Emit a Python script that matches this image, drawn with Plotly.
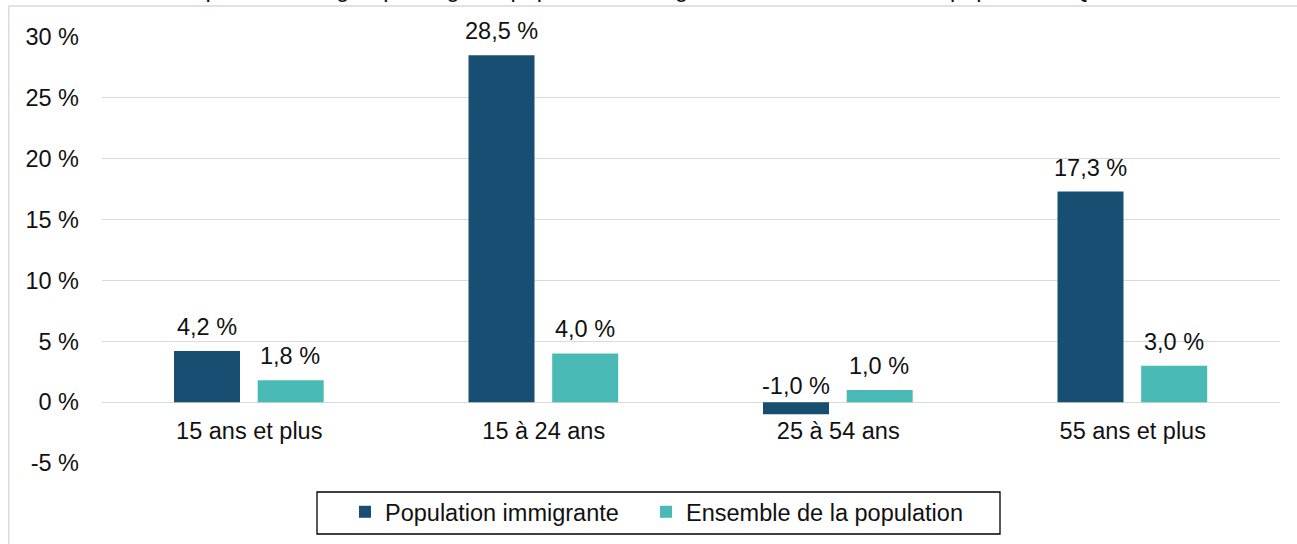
import plotly.graph_objects as go

categories = ["15 ans et plus", "15 à 24 ans", "25 à 54 ans", "55 ans et plus"]
series_names = ["Population immigrante", "Ensemble de la population"]
immigrante = [4.2, 28.5, -1.0, 17.3]
ensemble = [1.8, 4.0, 1.0, 3.0]
y_tickvals = [-5, 0, 5, 10, 15, 20, 25, 30]
y_ticktext = ["-5 %", "0 %", "5 %", "10 %", "15 %", "20 %", "25 %", "30 %"]
title_text = ("Variation de l'emploi selon le groupe d'âge, la population immigrante et "
              "l'ensemble de la population, Québec, 2019-2023")

colors = ["#174E71", "#4ABAB6"]
FONT = "Liberation Sans, Arial, sans-serif"
FS = 23.5

ML, MR, MT, MB = 102, 17, 37, 81
W, H = 1297, 544
PW, PH = W - ML - MR, H - MT - MB
CAT_PX = PW / len(categories)

def px_x(x):
    return (x - ML) / PW

def px_y(y):
    return 1 - (y - MT) / PH

def fmt(v):
    return f"{v:.1f}".replace(".", ",") + " %"

legend_names = ["legend", "legend2"]
legend_left = [345, 646]
bar_w = 66 / CAT_PX
bar_offsets = [-75.25 / CAT_PX, 8.45 / CAT_PX]
label_shift = [-42, 41]

fig = go.Figure()
for name, vals, col, lg, off in zip(series_names, [immigrante, ensemble], colors,
                                    legend_names, bar_offsets):
    fig.add_trace(go.Bar(x=categories, y=vals, name=name, marker_color=col,
                         marker_line_width=0, legend=lg, width=bar_w, offset=off))

annotations = []
for vals, shift in zip([immigrante, ensemble], label_shift):
    for c, v in zip(categories, vals):
        annotations.append(dict(
            x=c, y=max(v, 0), xref="x", yref="y", text=fmt(v), showarrow=False,
            xshift=shift, yanchor="bottom", yshift=(9 if v >= 0 else 1),
            font=dict(family=FONT, size=FS, color="#111111")))

annotations.append(dict(
    x=0.47, y=px_y(4.5), xref="paper", yref="paper", text=title_text, showarrow=False,
    xanchor="center", yanchor="bottom", font=dict(family=FONT, size=FS, color="#111111")))

shapes = [
    dict(type="rect", xref="paper", yref="paper", x0=px_x(8.7), x1=px_x(1310),
         y0=px_y(560), y1=px_y(6), line=dict(color="#D9D9D9", width=1.3),
         fillcolor="rgba(0,0,0,0)", layer="below"),
    dict(type="rect", xref="paper", yref="paper", x0=px_x(317), x1=px_x(1000),
         y0=px_y(534), y1=px_y(492), line=dict(color="#000000", width=1.3),
         fillcolor="rgba(0,0,0,0)", layer="above"),
]

legend_style = dict(orientation="h", xanchor="left", y=px_y(490), yanchor="top",
                    borderwidth=0, bgcolor="rgba(0,0,0,0)",
                    font=dict(family=FONT, size=FS, color="#111111"), itemwidth=30)

fig.update_layout(
    width=W, height=H,
    margin=dict(l=ML, r=MR, t=MT, b=MB, autoexpand=False),
    paper_bgcolor="white", plot_bgcolor="white",
    font=dict(family=FONT, size=FS, color="#111111"),
    barmode="overlay",
    showlegend=True,
    legend=dict(x=px_x(legend_left[0]), **legend_style),
    legend2=dict(x=px_x(legend_left[1]), **legend_style),
    annotations=annotations,
    shapes=shapes,
    xaxis=dict(anchor="free", position=5/35, showgrid=False, showline=False,
               range=[-0.5, len(categories) - 0.5],
               ticks="", tickfont=dict(family=FONT, size=FS, color="#111111"),
               ticklabelstandoff=12, automargin=False),
    yaxis=dict(range=[-5, 30], tickvals=y_tickvals, ticktext=y_ticktext,
               showgrid=True, gridcolor="#D9D9D9", gridwidth=1.3,
               zeroline=True, zerolinecolor="#D9D9D9", zerolinewidth=1.3,
               showline=False, ticks="", ticklabelstandoff=22, automargin=False,
               tickfont=dict(family=FONT, size=FS, color="#111111")),
)

fig.write_html("out.html", config={"displayModeBar": False},
               post_script="document.body.style.margin='0';")
